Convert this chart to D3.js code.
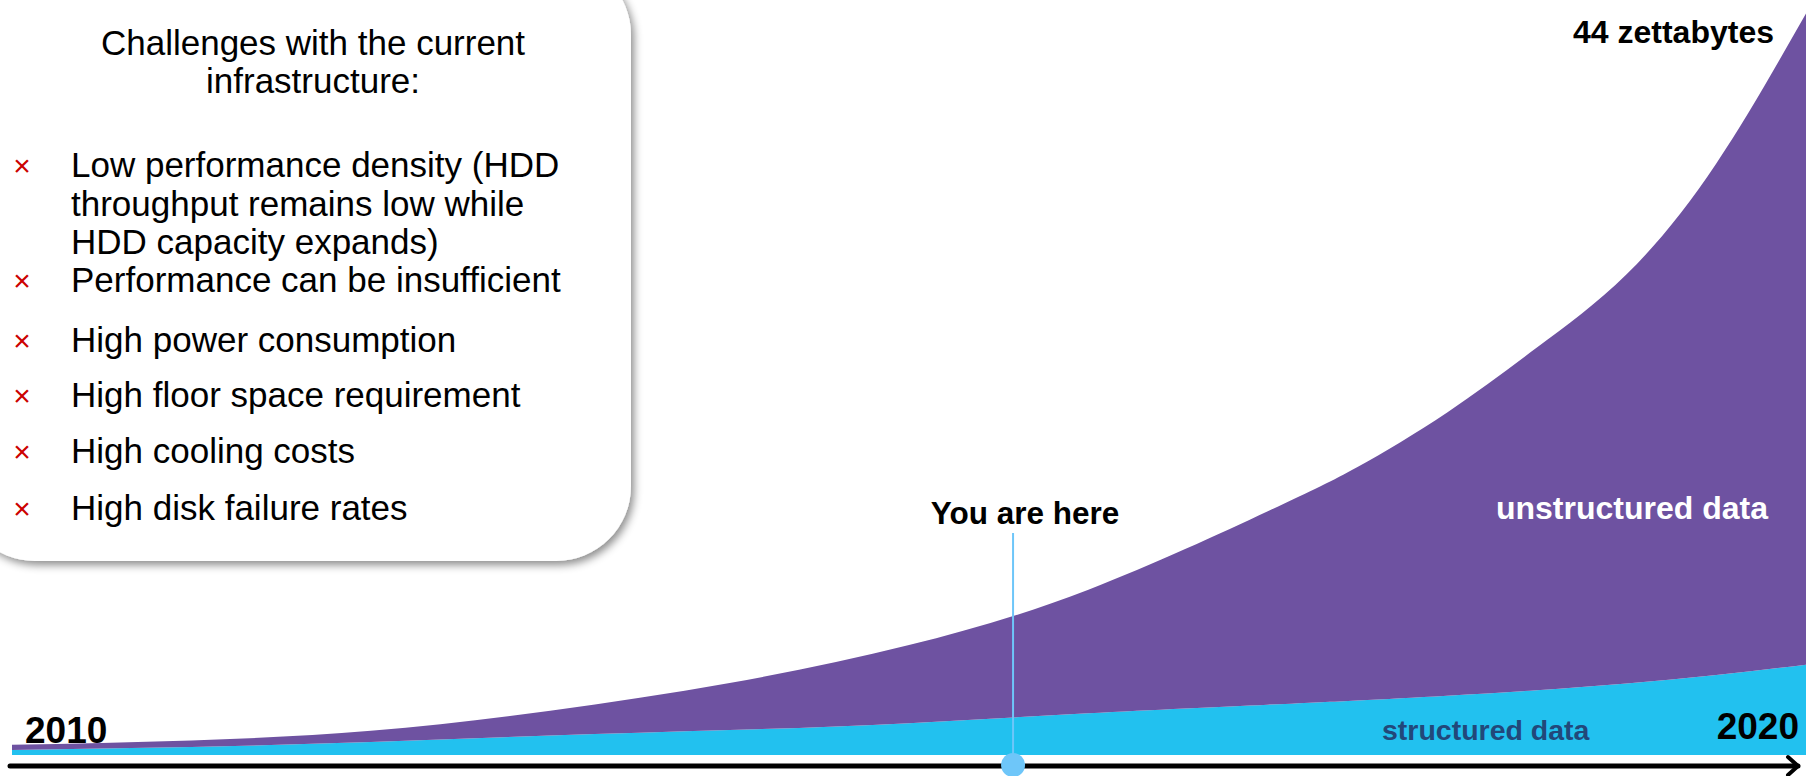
<!DOCTYPE html>
<html>
<head>
<meta charset="utf-8">
<script src="https://cdn.jsdelivr.net/npm/d3@7"></script>
<style>
  body { margin: 0; background: #fff; }
  svg { display: block; font-family: "Liberation Sans", Arial, sans-serif; }
</style>
</head>
<body>
<div id="chart"></div>
<script>
// data volume (zettabytes) (half years near the end)
var timePoints   = [2010, 2011, 2012, 2013, 2014, 2015, 2016, 2017, 2017.5, 2018, 2018.5, 2019, 2019.5, 2020];
var structured   = [0.3, 0.47, 0.76, 1.14, 1.46, 1.87, 2.45, 2.95, 3.2, 3.48, 3.8, 4.2, 4.7, 5.3];
var unstructured = [0.3, 0.38, 0.66, 1.46, 2.76, 4.58, 7.25, 11.35, 13.7, 16.62, 20.1, 24.0, 30.0, 38.2];
var yearLabels   = ["2010", "2020"];
var seriesKeys   = ["structured", "unstructured"];
var seriesLabels = ["structured data", "unstructured data"];
var youAreHere   = 2015.58;
var peakLabel    = "44 zettabytes";
var yMax         = 44;

var challengeTitle = ["Challenges with the current", "infrastructure:"];
var challenges = [
  ["Low performance density (HDD", "throughput remains low while", "HDD capacity expands)"],
  ["Performance can be insufficient"],
  ["High power consumption"],
  ["High floor space requirement"],
  ["High cooling costs"],
  ["High disk failure rates"]
];

var width = 1806, height = 776;

var svg = d3.select("#chart")
  .append("svg")
    .attr("width", width)
    .attr("height", height);

var defs = svg.append("defs");
var shadow = defs.append("filter").attr("id", "shadow")
    .attr("x", "-10%").attr("y", "-10%").attr("width", "130%").attr("height", "130%");
shadow.append("feDropShadow")
    .attr("dx", 3).attr("dy", 4).attr("stdDeviation", 4)
    .attr("flood-color", "#000").attr("flood-opacity", 0.45);

// scales
var x = d3.scaleLinear()
    .domain(d3.extent(timePoints))
    .range([12, width]);
var y = d3.scaleLinear()
    .domain([0, yMax])
    .range([755, 5]);

var rows = timePoints.map(function(t, i) {
  return {year: t, structured: structured[i], unstructured: unstructured[i]};
});
var stacked = d3.stack().keys(seriesKeys)(rows);

var color = d3.scaleOrdinal()
    .domain(seriesKeys)
    .range(["#22c1ef", "#6e52a1"]);

var area = d3.area()
    .x(function(d) { return x(d.data.year); })
    .y0(function(d) { return y(d[0]); })
    .y1(function(d) { return y(d[1]); })
    .curve(d3.curveNatural);

svg.append("g").selectAll("path")
  .data(stacked)
  .enter().append("path")
    .attr("d", area)
    .attr("fill", function(d) { return color(d.key); });

// time axis with arrow
var axisY = 766;
svg.append("line")
    .attr("x1", 10).attr("x2", x.range()[1] - 8)
    .attr("y1", axisY).attr("y2", axisY)
    .attr("stroke", "#000").attr("stroke-width", 5)
    .attr("stroke-linecap", "round");
svg.append("path")
    .attr("d", "M" + (width - 18) + "," + (axisY - 9) + "L" + (width - 8) + "," + axisY + "L" + (width - 18) + "," + (axisY + 9))
    .attr("fill", "none").attr("stroke", "#000").attr("stroke-width", 4)
    .attr("stroke-linecap", "round").attr("stroke-linejoin", "round");

// you are here marker
svg.append("line")
    .attr("x1", x(youAreHere)).attr("x2", x(youAreHere))
    .attr("y1", 533).attr("y2", axisY)
    .attr("stroke", "#6ec6f9").attr("stroke-width", 2);
svg.append("circle")
    .attr("cx", x(youAreHere)).attr("cy", axisY - 1).attr("r", 12)
    .attr("fill", "#6ec6f9");
svg.append("text")
    .attr("x", x(youAreHere) + 12).attr("y", 513).attr("dy", "0.35em")
    .attr("text-anchor", "middle")
    .style("font-size", "31.5px").style("font-weight", "bold")
    .text("You are here");

// labels on the chart
svg.append("text")
    .attr("x", 1774).attr("y", 32).attr("dy", "0.35em")
    .attr("text-anchor", "end")
    .style("font-size", "32px").style("font-weight", "bold")
    .text(peakLabel);
svg.append("text")
    .attr("x", 1768).attr("y", 508).attr("dy", "0.35em")
    .attr("text-anchor", "end").attr("fill", "#fff")
    .style("font-size", "32px").style("font-weight", "bold")
    .text(seriesLabels[1]);
svg.append("text")
    .attr("x", 1382).attr("y", 730).attr("dy", "0.35em")
    .attr("fill", "#22487a")
    .style("font-size", "28.5px").style("font-weight", "bold")
    .text(seriesLabels[0]);
svg.append("text")
    .attr("x", 25).attr("y", 730).attr("dy", "0.35em")
    .style("font-size", "37px").style("font-weight", "bold")
    .text(yearLabels[0]);
svg.append("text")
    .attr("x", 1799).attr("y", 726).attr("dy", "0.35em")
    .attr("text-anchor", "end")
    .style("font-size", "37px").style("font-weight", "bold")
    .text(yearLabels[1]);

// challenges box
var box = svg.append("g");
box.append("rect")
    .attr("x", -40).attr("y", -40)
    .attr("width", 671).attr("height", 601)
    .attr("rx", 75).attr("ry", 75)
    .attr("fill", "#fff")
    .attr("filter", "url(#shadow)");

box.selectAll("text.title")
  .data(challengeTitle)
  .enter().append("text")
    .attr("class", "title")
    .attr("x", 313)
    .attr("y", function(d, i) { return 43 + i * 38; })
    .attr("dy", "0.35em")
    .attr("text-anchor", "middle")
    .style("font-size", "35px")
    .text(function(d) { return d; });

var itemY = [165, 280, 340, 395, 451, 508];
challenges.forEach(function(lines, i) {
  box.append("text")
      .attr("x", 22).attr("y", itemY[i]).attr("dy", "0.35em")
      .attr("text-anchor", "middle").attr("fill", "#cc0000")
      .style("font-size", "30px")
      .text("\u00d7");
  lines.forEach(function(line, j) {
    box.append("text")
        .attr("x", 71).attr("y", itemY[i] + j * 38.5).attr("dy", "0.35em")
        .style("font-size", "35px")
        .text(line);
  });
});
</script>
</body>
</html>
